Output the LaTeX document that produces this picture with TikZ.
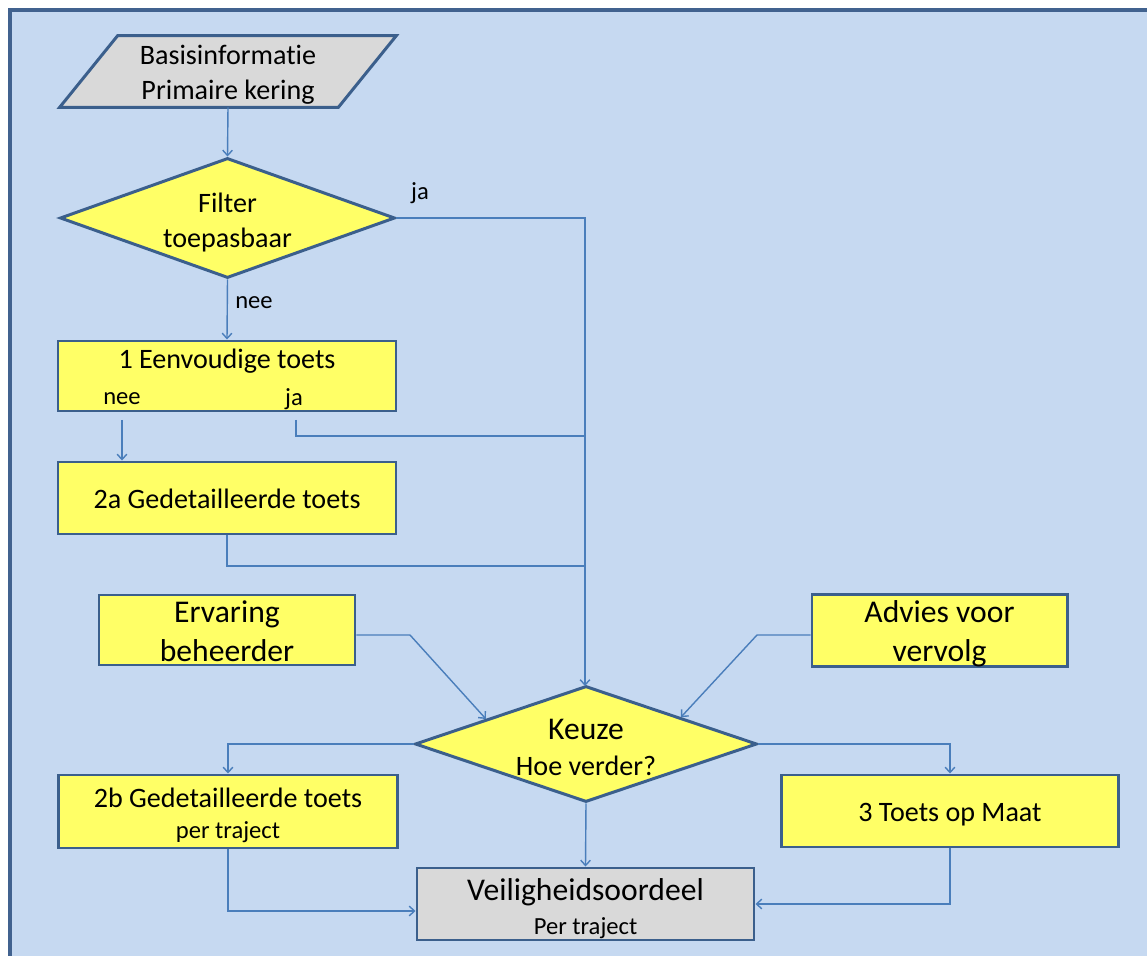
\documentclass[tikz,border=0pt]{standalone}
\usepackage{fontspec}
\setmainfont{Carlito}[Ligatures=NoCommon]
\usetikzlibrary{shapes.geometric,arrows.meta,calc}
\definecolor{bgblue}{HTML}{C6D9F1}
\definecolor{frameblue}{HTML}{41628F}
\definecolor{boxyellow}{HTML}{FFFF66}
\definecolor{boxborder}{HTML}{3B5F8C}
\definecolor{boxgray}{HTML}{D9D9D9}
\definecolor{connblue}{HTML}{4A7EBB}
\newlength\pxu
\setlength\pxu{0.02cm}
\newcommand\fsixteen{\fontsize{16}{20}\selectfont}
\newcommand\ffourteen{\fontsize{14}{17}\selectfont}
\newcommand\feighteen{\fontsize{18}{21.5}\selectfont}
\begin{document}
\begin{tikzpicture}[x=0.02cm,y=-0.02cm,
  shapebase/.style={draw=boxborder, line width=1.7pt, inner sep=0pt},
  box/.style={shapebase, rectangle, fill=boxyellow},
  graybox/.style={shapebase, rectangle, fill=boxgray},
  decision/.style={shapebase, diamond, fill=boxyellow},
  paraframe/.style={shapebase, fill=boxgray, line join=miter},
  intext/.style={align=center, inner sep=0pt, font=\fsixteen, yshift=-1.8pt},
  lbl/.style={inner sep=0pt, font=\ffourteen},
  conn/.style={draw=connblue, line width=0.8pt},
  arr/.style={conn, -{Straight Barb[length=3pt,width=5.5pt]}}]
\useasboundingbox (0,0) rectangle (1147,956);
\fill[white] (0,0) rectangle (1147,956);
\begin{scope}
\clip (0,0) rectangle (1147,956);
\draw[draw=frameblue, line width=2pt, fill=bgblue] (10,10) rectangle (1170,980);
\end{scope}

% parallelogram (input)
\node[inner sep=0pt, minimum width={278*\pxu}, minimum height={71*\pxu}] (basis) at (228,71.5) {};
\draw[paraframe] ($(basis.north west)+(29,0)$) -- ($(basis.north east)+(29,0)$)
  -- ($(basis.south east)+(-29,0)$) -- ($(basis.south west)+(-29,0)$) -- cycle;
\node[intext] (basistxt) at (basis.center) {Basisinformatie\\Primaire kering};

% nodes
\node[decision, minimum width={335*\pxu}, minimum height={120*\pxu},
  label={[intext, yshift=-0.8pt]center:Filter\\toepasbaar}] (filter) at (227.5,218) {};
\node[lbl] (jafilter) at (420,193) {ja};
\node[lbl] (neefilter) at (254,303) {nee};

\node[box, minimum width={338*\pxu}, minimum height={70*\pxu}] (box1) at (227,376) {};
\node[inner sep=0pt, font=\fsixteen] (t1) at (227,361) {1 Eenvoudige toets};
\node[lbl] (nee1) at (122,399) {nee};
\node[lbl] (ja1) at (294,399) {ja};

\node[box, minimum width={338*\pxu}, minimum height={72*\pxu},
  label={[intext, yshift=1.2pt]center:2a Gedetailleerde toets}] (box2a) at (227,498) {};

\node[box, minimum width={256*\pxu}, minimum height={70*\pxu},
  label={[intext, font=\feighteen, yshift=1pt]center:Ervaring\\[0.5pt]beheerder}] (erv) at (227,630) {};
\node[box, minimum width={255*\pxu}, minimum height={72*\pxu},
  label={[intext, font=\feighteen]center:Advies voor\\[0.5pt]vervolg}] (adv) at (939.5,630.5) {};

\node[decision, minimum width={342*\pxu}, minimum height={116*\pxu},
  label={[intext]center:{\feighteen Keuze}\\[0.5pt]Hoe verder?}] (keuze) at (586,744) {};

\node[box, minimum width={339*\pxu}, minimum height={73*\pxu},
  label={[intext, yshift=-0.5pt]center:2b Gedetailleerde toets\\[-2.4pt]{\ffourteen per traject}}] (box2b) at (228,811.5) {};
\node[box, minimum width={337*\pxu}, minimum height={72*\pxu},
  label={[intext, yshift=0pt]center:3 Toets op Maat}] (box3) at (950,811) {};

\node[graybox, minimum width={337*\pxu}, minimum height={72*\pxu},
  label={[intext, yshift=-0.6pt]center:{\feighteen Veiligheidsoordeel}\\[-0.7pt]{\ffourteen Per traject}}] (veil) at (585.5,904) {};

% coordinates
\coordinate (n1) at (122,420);
\coordinate (j1) at (296,420);
\coordinate (m1) at (585,436);
\coordinate (m2) at (585,566);
\coordinate (kin) at (585,686);
\coordinate (ervk) at (410,635);
\coordinate (advk) at (757,635);

% connectors
\draw[arr] (basis.south) -- (filter.north);
\draw[arr] (filter.east) -| (kin);
\draw[arr] (filter.south) -- (box1.north);
\draw[arr] (n1) -- (n1 |- box2a.north);
\draw[conn] (j1) |- (m1);
\draw[conn] (box2a.south) |- (m2);
\draw[arr] (erv.east |- ervk) -- (ervk) -- ($(keuze.west)!0.42!(keuze.north)$);
\draw[arr] (adv.west |- advk) -- (advk) -- ($(keuze.east)!0.45!(keuze.north)$);
\draw[arr] (keuze.west) -| (box2b.north);
\draw[arr] (keuze.east) -| (box3.north);
\draw[arr] (keuze.south) -- (veil.north);
\draw[arr] (box2b.south) |- ($(veil.west)+(0,7)$);
\draw[arr] (box3.south) |- (veil.east);
\end{tikzpicture}
\end{document}
